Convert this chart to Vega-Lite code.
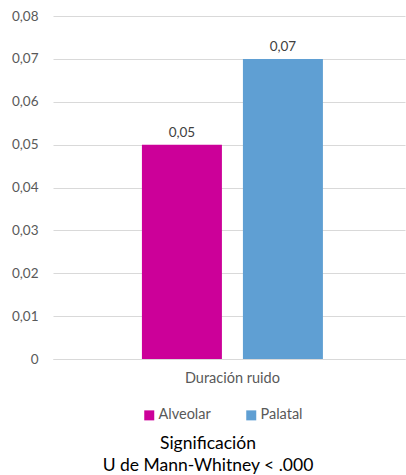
{
  "$schema": "https://vega.github.io/schema/vega-lite/v6.json",
  "width": 352,
  "height": 343,
  "autosize": {"type": "none"},
  "padding": {"left": 53, "top": 16, "right": 1, "bottom": 116},
  "background": "white",
  "config": {
    "locale": {"number": {"decimal": ",", "thousands": ".", "grouping": [3], "currency": ["", " €"]}},
    "font": "Lato",
    "view": {"stroke": null}
  },
  "title": {
    "text": ["Significación", "U de Mann-Whitney < .000"],
    "orient": "bottom",
    "anchor": "middle",
    "font": "Lato",
    "fontSize": 17.5,
    "fontWeight": "normal",
    "color": "#000000",
    "lineHeight": 22,
    "offset": 13,
    "dx": -21
  },
  "data": {
    "values": [
      {"grupo": "Duración ruido", "serie": "Alveolar", "valor": 0.05},
      {"grupo": "Duración ruido", "serie": "Palatal", "valor": 0.07}
    ]
  },
  "encoding": {
    "x": {
      "field": "grupo",
      "type": "nominal",
      "title": null,
      "scale": {"paddingInner": 0, "paddingOuter": 0.4724, "align": 0.52},
      "axis": {
        "labelAngle": 0,
        "ticks": false,
        "domainColor": "#D9D9D9",
        "labelColor": "#595959",
        "labelFontSize": 14.5,
        "labelPadding": 12,
        "labelFont": "Lato"
      }
    },
    "xOffset": {
      "field": "serie",
      "type": "nominal",
      "scale": {"paddingInner": 0.208, "paddingOuter": 0}
    },
    "y": {
      "field": "valor",
      "type": "quantitative",
      "title": null,
      "scale": {"domain": [0, 0.08], "nice": false},
      "axis": {
        "values": [0, 0.01, 0.02, 0.03, 0.04, 0.05, 0.06, 0.07, 0.08],
        "format": ".2f",
        "labelExpr": "datum.value == 0 ? '0' : datum.label",
        "domain": false,
        "ticks": false,
        "gridColor": "#D9D9D9",
        "labelColor": "#595959",
        "labelFontSize": 13.5,
        "labelPadding": 15,
        "labelFont": "Lato"
      }
    },
    "color": {
      "field": "serie",
      "type": "nominal",
      "scale": {"domain": ["Alveolar", "Palatal"], "range": ["#CC0099", "#5F9FD3"]},
      "legend": {
        "title": null,
        "orient": "none",
        "legendX": 89,
        "legendY": 392,
        "direction": "horizontal",
        "symbolType": "square",
        "symbolSize": 100,
        "symbolStrokeWidth": 0,
        "labelColor": "#595959",
        "labelFontSize": 14.5,
        "labelFont": "Lato",
        "columnPadding": 33,
        "labelOffset": 2,
        "padding": 0
      }
    }
  },
  "layer": [
    {"mark": {"type": "bar"}},
    {
      "mark": {"type": "text", "dy": -12, "fontSize": 13.5, "color": "#404040", "font": "Lato"},
      "encoding": {
        "text": {"field": "valor", "type": "quantitative", "format": ".2f"},
        "color": {"value": "#404040"}
      }
    }
  ]
}
